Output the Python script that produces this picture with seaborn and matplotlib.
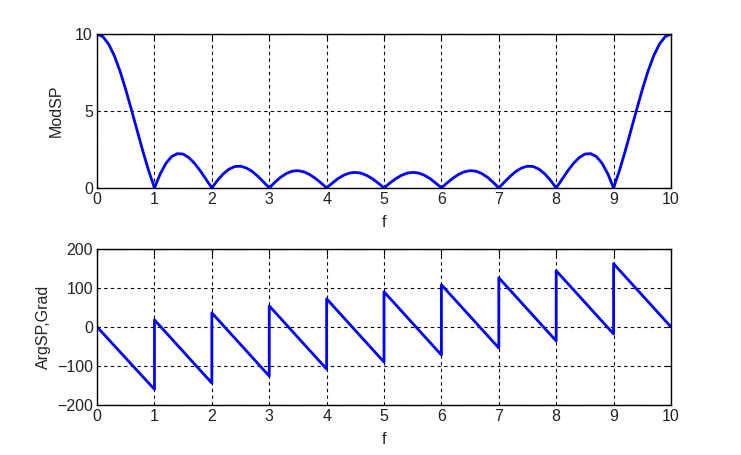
import numpy as np
import pandas as pd
from matplotlib import pyplot as plt
import seaborn as sns

# magnitude spectrum, read at f = 0, 0.1, ..., 10
f_mod = np.round(np.arange(0, 10.001, 0.1), 1)
mod_sp = [10, 9.84, 9.36, 8.60, 7.59, 6.39, 5.07, 3.71, 2.36, 1.11,
          0, 0.91, 1.60, 2.04, 2.23, 2.20, 1.97, 1.59, 1.10, 0.55,
          0, 0.50, 0.92, 1.22, 1.39, 1.41, 1.30, 1.08, 0.76, 0.39,
          0, 0.37, 0.70, 0.94, 1.09, 1.12, 1.05, 0.88, 0.63, 0.33,
          0, 0.32, 0.61, 0.83, 0.97, 1.01, 0.96, 0.81, 0.59, 0.31,
          0, 0.31, 0.59, 0.81, 0.96, 1.01, 0.97, 0.83, 0.61, 0.32,
          0, 0.33, 0.63, 0.88, 1.05, 1.12, 1.09, 0.94, 0.70, 0.37,
          0, 0.39, 0.76, 1.08, 1.30, 1.41, 1.39, 1.22, 0.92, 0.50,
          0, 0.55, 1.10, 1.59, 1.97, 2.20, 2.23, 2.04, 1.60, 0.91,
          0, 1.11, 2.36, 3.71, 5.07, 6.39, 7.59, 8.60, 9.36, 9.84, 10]

# phase (degrees): segment end points, jumps at integer f
f_arg = [0, 1, 1, 2, 2, 3, 3, 4, 4, 5, 5, 6, 6, 7, 7, 8, 8, 9, 9, 10]
arg_sp = [0, -160, 18, -144, 36, -126, 54, -108, 72, -90,
          90, -72, 108, -54, 126, -36, 144, -18, 162, 0]

sns.set_style("white")
plt.rcParams['font.family'] = ['Liberation Sans', 'DejaVu Sans']
plt.rcParams['font.size'] = 11.5

fig = plt.figure(figsize=(7.41, 4.55), dpi=100)
ax1 = fig.add_axes([0.131, 0.587, 0.7745, 0.338])
ax2 = fig.add_axes([0.131, 0.110, 0.7745, 0.343])

sns.lineplot(x=f_mod, y=mod_sp, ax=ax1, color='#0000ff', linewidth=2,
             estimator=None, sort=False)
sns.lineplot(x=f_arg, y=arg_sp, ax=ax2, color='#0000ff', linewidth=2,
             estimator=None, sort=False)

ax1.set_ylim(0, 10)
ax1.set_yticks([0, 5, 10])
ax1.set_ylabel("ModSP", color='#222222', labelpad=8)
ax2.set_ylim(-200, 200)
ax2.set_yticks([-200, -100, 0, 100, 200])
ax2.set_ylabel("ArgSP,Grad", color='#222222', labelpad=4)

for ax in (ax1, ax2):
    ax.set_xlim(0, 10)
    ax.set_xticks(range(11))
    ax.set_xlabel("f", labelpad=6, color='#222222')
    ax.grid(True, color='black', linestyle=(0, (3, 3)), linewidth=0.8)
    ax.set_axisbelow(True)
    for sp in ax.spines.values():
        sp.set_color('black')
        sp.set_linewidth(1.0)
    ax.tick_params(direction='in', length=4, color='black', labelcolor='#222222',
                   top=True, right=True, pad=3)

fig.savefig("out.png", dpi=100)
